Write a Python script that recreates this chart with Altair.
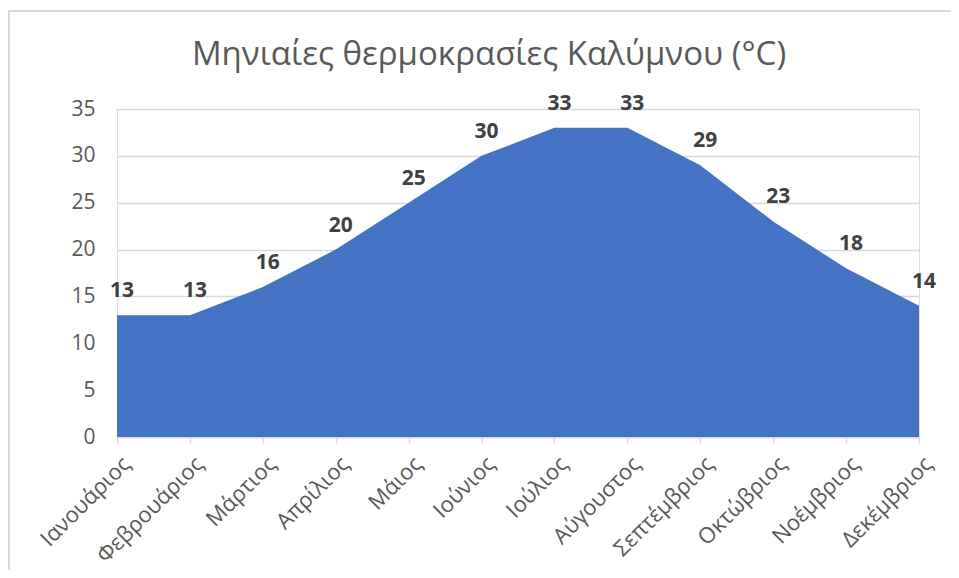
import altair as alt
import pandas as pd

months = ["Ιανουάριος", "Φεβρουάριος", "Μάρτιος", "Απρίλιος", "Μάιος", "Ιούνιος",
          "Ιούλιος", "Αύγουστος", "Σεπτέμβριος", "Οκτώβριος", "Νοέμβριος", "Δεκέμβριος"]
temps = [13, 13, 16, 20, 25, 30, 33, 33, 29, 23, 18, 14]
y_ticks = [0, 5, 10, 15, 20, 25, 30, 35]
title_text = "Μηνιαίες θερμοκρασίες Καλύμνου (°C)"

df = pd.DataFrame({"month": months, "temp": temps})

FONT = "Open Sans"
x = alt.X("month:N", sort=months, scale=alt.Scale(type="point", padding=0),
          axis=alt.Axis(title=None, labelAngle=-45, labelAlign="right", labelBaseline="top",
                        labelFontSize=22, labelColor="#595959", labelFont=FONT,
                        domainColor="#d9d9d9", domainWidth=1.5, tickColor="#d9d9d9",
                        tickSize=6, tickWidth=1.5, labelPadding=10, labelOffset=2,
                        grid=False))
y = alt.Y("temp:Q", scale=alt.Scale(domain=[0, 35], nice=False),
          axis=alt.Axis(title=None, values=y_ticks, labelFontSize=21, labelColor="#595959",
                        labelFont=FONT, labelPadding=22, domain=False, ticks=False,
                        gridColor="#d9d9d9", gridWidth=1.5))

area = alt.Chart(df).mark_area(color="#4472C4", opacity=1).encode(x=x, y=y)
labels = alt.Chart(df).mark_text(fontSize=21, fontWeight="bold", color="#404040", font=FONT,
                                 baseline="middle", dx=5, dy=-24).encode(
    x=alt.X("month:N", sort=months), y="temp:Q", text="temp:Q")
border = alt.Chart(df).mark_rect(fill=None, stroke="#d9d9d9", strokeWidth=1.5).encode(
    x=alt.value(-108), x2=alt.value(900), y=alt.value(-98), y2=alt.value(600))
title = alt.Chart(pd.DataFrame({"t": [title_text]})).mark_text(
    fontSize=33, font=FONT, color="#595959", align="center", baseline="middle").encode(
    text="t:N", x=alt.value(372), y=alt.value(-54))

chart = alt.layer(border, area, labels, title).properties(
    width=802, height=328,
    padding={"left": 109, "top": 101, "right": 32, "bottom": 133},
    autosize="none",
).configure_view(stroke=None).configure(background="white")

chart.save("out.html", embed_options={"renderer": "svg", "actions": False})
